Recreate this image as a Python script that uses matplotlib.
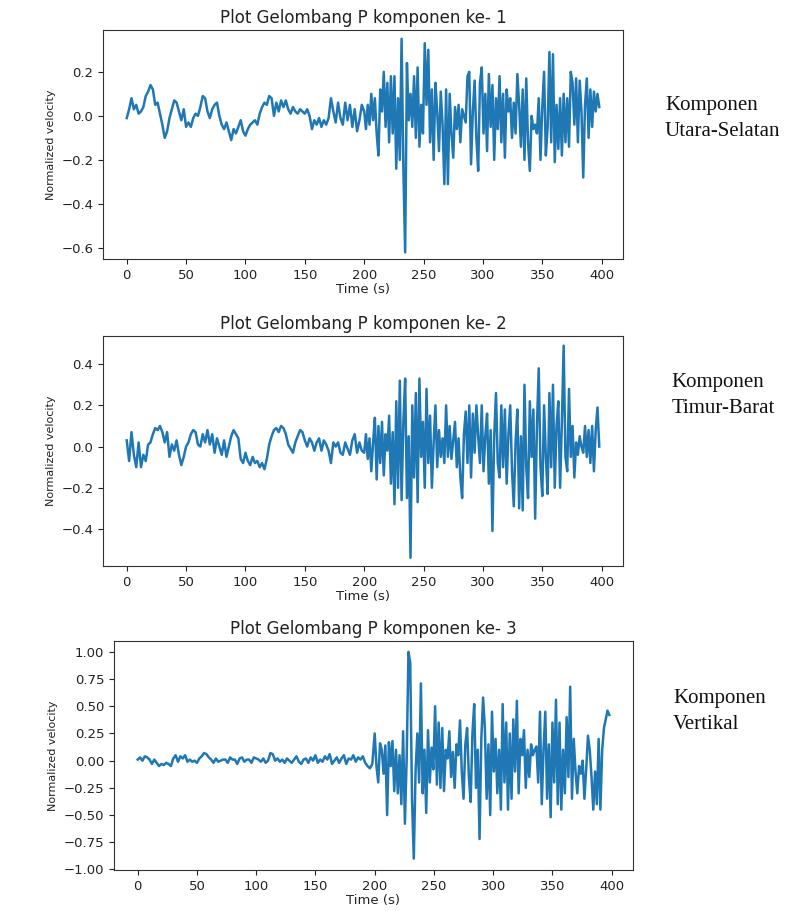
import numpy as np
import matplotlib
matplotlib.use('Agg')
import matplotlib.pyplot as plt

## sample times (s): 2 s steps before the P onset, 1.5 s steps after
t_pre = np.arange(0, 200, 2)
t_post = np.arange(200, 399, 1.5)
time = np.concatenate([t_pre, t_post])

## komponen 1 (N-S)
ns_pre = [-0.01, 0.03, 0.08, 0.03, 0.05, 0.01, 0.02, 0.04, 0.09, 0.11,
          0.14, 0.12, 0.05, 0.06, 0.01, -0.04, -0.10, -0.07, -0.01, 0.03,
          0.07, 0.06, 0.02, -0.02, 0.03, -0.05, -0.03, -0.05, -0.01, 0.01,
          0.00, 0.04, 0.09, 0.08, 0.02, -0.01, 0.03, 0.05, 0.06, 0.00,
          -0.04, -0.06, -0.03, -0.07, -0.11, -0.06, -0.08, -0.05, -0.02, -0.07,
          -0.09, -0.06, -0.04, -0.03, -0.02, -0.04, 0.01, 0.04, 0.06, 0.05,
          0.09, 0.08, 0.00, 0.06, 0.02, 0.07, 0.04, 0.07, 0.03, 0.01,
          0.04, 0.02, 0.01, 0.03, 0.02, 0.01, 0.03, 0.00, -0.06, -0.02,
          -0.04, -0.01, -0.05, -0.02, -0.04, -0.01, 0.08, 0.02, -0.03, 0.06,
          -0.01, -0.04, 0.06, -0.02, 0.05, -0.05, 0.03, -0.07, -0.02, 0.05]
ns_post = [0.02, -0.06, 0.05, -0.04, 0.10, -0.02, 0.08, -0.08, -0.18, 0.12,
           0.02, 0.20, -0.05, 0.15, -0.12, 0.18, -0.08, 0.18, -0.24, 0.08,
           -0.20, 0.35, -0.24, -0.62, 0.24, -0.02, 0.10, -0.05, 0.18, -0.10,
           0.22, -0.14, 0.05, -0.08, 0.33, 0.05, 0.30, -0.12, 0.12, -0.20,
           0.15, 0.02, -0.16, 0.11, -0.04, -0.31, 0.12, -0.31, 0.10, -0.08,
           -0.19, 0.04, -0.06, 0.05, -0.12, 0.03, 0.00, -0.03, 0.18, 0.20,
           -0.22, 0.02, 0.16, -0.10, -0.25, 0.15, 0.22, -0.08, 0.10, -0.16,
           0.19, -0.05, 0.14, -0.20, 0.08, -0.06, 0.18, -0.12, 0.10, -0.19,
           0.12, 0.02, 0.08, -0.10, 0.06, -0.08, 0.19, 0.05, -0.14, 0.12,
           -0.20, 0.17, -0.12, -0.25, 0.00, -0.06, -0.04, -0.08, 0.08, -0.20,
           0.04, 0.20, -0.18, -0.05, 0.29, -0.12, 0.28, -0.21, 0.05, -0.15,
           0.08, -0.18, 0.10, -0.12, 0.08, -0.14, 0.20, 0.15, -0.04, 0.17,
           -0.12, 0.16, 0.02, -0.28, 0.05, 0.17, -0.10, 0.12, -0.05, 0.11,
           0.02, 0.10, 0.04]

## komponen 2 (E-W)
ew_pre = [0.03, -0.07, 0.07, -0.04, -0.10, 0.02, -0.10, -0.04, -0.07, 0.01,
          0.02, 0.06, 0.09, 0.08, 0.10, 0.07, 0.02, 0.07, -0.05, 0.01,
          -0.02, 0.03, -0.04, -0.09, -0.05, 0.00, 0.02, 0.06, 0.08, 0.07,
          0.01, 0.00, 0.06, 0.02, 0.08, 0.01, 0.06, -0.03, 0.04, 0.00,
          -0.04, 0.03, -0.05, 0.00, 0.05, 0.08, 0.06, 0.04, -0.06, -0.08,
          -0.03, -0.07, -0.09, -0.05, -0.08, -0.07, -0.10, -0.08, -0.11, -0.06,
          0.01, 0.05, 0.08, 0.09, 0.07, 0.10, 0.09, 0.06, 0.01, -0.01,
          -0.03, 0.02, 0.05, 0.08, 0.07, 0.03, 0.00, 0.04, 0.02, -0.02,
          0.02, 0.04, -0.02, 0.03, 0.01, -0.02, -0.08, 0.02, 0.00, 0.02,
          -0.03, -0.04, 0.02, -0.01, -0.04, 0.03, 0.06, -0.03, 0.02, -0.02]
ew_post = [-0.03, 0.06, -0.06, 0.04, -0.12, 0.02, 0.14, -0.16, 0.10, -0.08,
           0.12, -0.14, 0.06, -0.02, 0.15, -0.18, 0.07, -0.28, 0.22, -0.20,
           0.32, -0.26, 0.12, 0.33, -0.25, 0.05, -0.54, 0.20, -0.15, 0.26,
           -0.27, 0.33, -0.05, 0.12, -0.20, 0.28, -0.08, 0.15, -0.20, 0.02,
           0.20, -0.10, 0.08, -0.05, 0.04, -0.08, 0.20, -0.05, 0.10, -0.06,
           0.03, 0.12, -0.10, 0.04, -0.15, -0.25, 0.06, 0.17, -0.08, 0.20,
           -0.15, 0.16, -0.03, 0.20, 0.05, -0.08, 0.20, -0.12, 0.05, 0.16,
           -0.18, 0.08, -0.41, 0.05, 0.26, -0.08, -0.15, 0.20, -0.10, 0.18,
           -0.18, 0.06, 0.20, -0.12, -0.29, 0.02, 0.18, -0.30, 0.05, -0.31,
           0.30, -0.10, -0.25, 0.22, -0.05, 0.18, -0.35, 0.10, 0.38, -0.10,
           -0.24, 0.20, -0.05, -0.23, 0.26, -0.10, 0.30, -0.20, 0.10, 0.22,
           -0.20, 0.12, 0.49, -0.05, -0.12, 0.28, -0.05, 0.10, -0.15, 0.02,
           -0.04, 0.05, 0.00, -0.03, 0.10, -0.05, 0.08, -0.08, 0.10, -0.12,
           0.08, 0.19, 0.00]

## komponen 3 (vertikal)
z_pre = [0.01, 0.03, 0.00, 0.04, 0.03, 0.01, -0.03, 0.01, -0.02, -0.05,
         -0.03, -0.04, -0.02, -0.03, -0.05, 0.02, 0.05, -0.01, 0.04, 0.02,
         0.05, -0.01, 0.01, -0.01, 0.00, -0.02, 0.02, 0.04, 0.07, 0.06,
         0.03, 0.01, -0.02, 0.02, -0.01, 0.00, 0.01, 0.01, -0.02, 0.03,
         0.01, 0.01, -0.03, 0.02, 0.03, -0.01, 0.01, 0.01, -0.02, 0.03,
         0.02, 0.01, -0.01, 0.02, -0.02, 0.00, 0.07, 0.06, 0.00, 0.02,
         -0.01, 0.01, -0.02, 0.02, 0.00, -0.02, 0.01, 0.04, -0.01, -0.03,
         0.01, 0.02, -0.02, 0.03, 0.00, 0.05, -0.02, 0.01, -0.01, 0.04,
         0.01, 0.06, -0.03, 0.00, 0.03, -0.02, 0.02, 0.05, -0.03, 0.02,
         0.01, 0.05, -0.01, 0.03, 0.01, 0.04, -0.02, -0.05, -0.07, -0.03]
z_post = [0.25, -0.05, -0.20, 0.16, 0.10, -0.12, 0.14, -0.50, 0.17, -0.05,
          0.18, -0.28, 0.10, -0.30, 0.05, -0.40, 0.27, -0.58, 0.02, 1.00,
          0.90, -0.35, -0.90, -0.10, 0.25, -0.20, 0.71, -0.30, 0.10, -0.48,
          0.28, -0.20, 0.12, -0.08, 0.50, -0.22, 0.35, -0.25, 0.30, -0.28,
          0.10, 0.02, 0.27, -0.15, 0.08, -0.25, 0.15, 0.05, 0.37, -0.10,
          -0.35, 0.15, 0.30, -0.15, -0.38, 0.25, 0.52, -0.25, 0.10, -0.72,
          0.20, 0.58, 0.30, -0.35, 0.15, -0.50, 0.45, -0.10, 0.20, -0.30,
          0.10, -0.45, 0.52, -0.20, 0.35, -0.45, 0.25, -0.35, 0.38, -0.10,
          0.55, -0.30, 0.20, 0.05, 0.28, -0.25, 0.10, -0.15, 0.15, 0.05,
          0.10, 0.13, -0.20, 0.45, -0.40, 0.10, 0.45, -0.35, 0.15, -0.52,
          0.35, -0.20, 0.56, -0.40, 0.35, -0.45, 0.10, -0.30, 0.40, -0.15,
          0.68, -0.35, 0.20, -0.10, -0.30, -0.05, -0.12, 0.00, -0.35, -0.08,
          0.23, 0.10, -0.15, -0.45, -0.10, -0.40, 0.20, -0.45, 0.10, 0.30,
          0.38, 0.46, 0.42]

series = [ns_pre + ns_post, ew_pre + ew_post, z_pre + z_post]
titles = ['Plot Gelombang P komponen ke- 1',
          'Plot Gelombang P komponen ke- 2',
          'Plot Gelombang P komponen ke- 3']
side_labels = ['Komponen\nUtara-Selatan', 'Komponen\nTimur-Barat', 'Komponen\nVertikal']
ylims = [(-0.65, 0.39), (-0.58, 0.537), (-1.005, 1.10)]
yticks = [[-0.6, -0.4, -0.2, 0.0, 0.2],
          [-0.4, -0.2, 0.0, 0.2, 0.4],
          [-1.0, -0.75, -0.5, -0.25, 0.0, 0.25, 0.5, 0.75, 1.0]]
ytickfmt = ['%.1f', '%.1f', '%.2f']

## axes boxes in figure fraction (left, bottom, width, height)
boxes = [[0.1281, 0.7157, 0.6468, 0.2514],
         [0.1281, 0.3787, 0.6468, 0.2525],
         [0.1418, 0.0450, 0.6455, 0.2514]]
side_y = [0.870, 0.566, 0.219]
side_x = [0.827, 0.835, 0.837]

fig = plt.figure(figsize=(8.04, 9.11), dpi=100)
fig.patch.set_facecolor('white')

for i in range(3):
    ax = fig.add_axes(boxes[i])
    ax.plot(time, series[i], color='#1f77b4', linewidth=1.8)
    ax.set_xlim(-20, 418)
    ax.set_ylim(*ylims[i])
    ax.set_xticks([0, 50, 100, 150, 200, 250, 300, 350, 400])
    ax.set_yticks(yticks[i])
    ax.set_yticklabels([(ytickfmt[i] % v).replace('-', '\u2212') for v in yticks[i]])
    ax.tick_params(labelsize=9.5, colors='#222222', length=3.5)
    ax.set_title(titles[i], fontsize=12, color='#222222', pad=5)
    ax.set_xlabel('Time (s)', fontsize=9.5, color='#222222', labelpad=1)
    ax.set_ylabel('Normalized velocity', fontsize=8, color='#222222')
    for s in ax.spines.values():
        s.set_color('#333333')
    fig.text(side_x[i], side_y[i], side_labels[i], family='Liberation Serif',
             fontsize=15, ha='left', va='center', linespacing=1.5, color='#111111')

plt.savefig('out.png', dpi=100)
